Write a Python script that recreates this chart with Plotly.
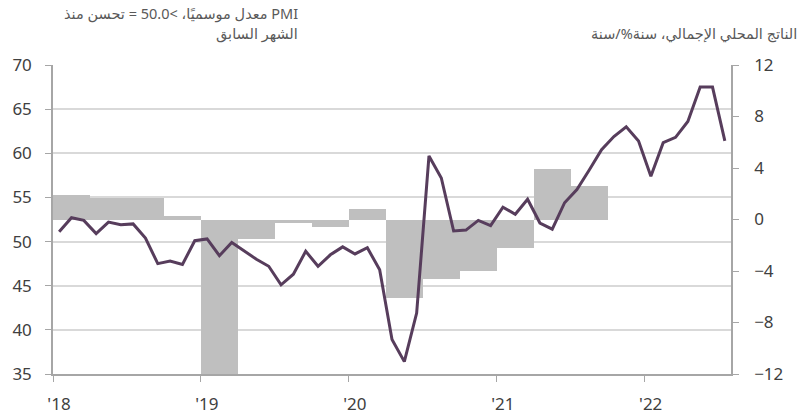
import plotly.graph_objects as go

# Monthly PMI, Jan 2018 - Jul 2022
pmi_months = list(range(55))
pmi_values = [
    51.1, 52.7, 52.4, 50.9, 52.2, 51.9, 52.0, 50.4, 47.5, 47.8, 47.4, 50.1,  # 2018
    50.3, 48.4, 49.9, 48.9, 48.0, 47.2, 45.1, 46.3, 48.9, 47.2, 48.5, 49.4,  # 2019
    48.6, 49.3, 46.8, 38.9, 36.4, 41.9, 59.7, 57.2, 51.2, 51.3, 52.4, 51.8,  # 2020
    53.9, 53.1, 54.8, 52.1, 51.4, 54.4, 55.9, 58.1, 60.4, 61.9, 63.0, 61.4,  # 2021
    57.4, 61.2, 61.8, 63.6, 67.5, 67.5, 61.4,                                # 2022
]

# Quarterly GDP, % y/y, Q1 2018 - Q3 2021
gdp_quarters = list(range(15))
gdp_values = [1.9, 1.7, 1.7, 0.25, -13.5, -1.5, -0.25, -0.6,
              0.8, -6.1, -4.6, -4.0, -2.2, 3.9, 2.6]

year_ticks = [0, 12, 24, 36, 48]
year_labels = ["'18", "'19", "'20", "'21", "'22"]

RLI, PDI = "\u2067", "\u2069"
left_title_1 = RLI + "PMI معدل موسميًا، >50.0 = تحسن منذ" + PDI
left_title_2 = RLI + "الشهر السابق" + PDI
right_title = RLI + "الناتج المحلي الإجمالي، سنة%/سنة" + PDI

FONT = "Noto Sans, DejaVu Sans, sans-serif"
AXIS_COLOR = "#a6a6a6"
TEXT_COLOR = "#404040"

W, H = 810, 419
ML, MR, MT, MB = 53, 79, 65, 45

fig = go.Figure()

fig.add_trace(go.Bar(
    x=[3 * q + 1.5 for q in gdp_quarters],
    y=gdp_values,
    width=3,
    marker=dict(color="#bfbfbf", line=dict(width=0)),
    yaxis="y",
    showlegend=False,
))

fig.add_trace(go.Scatter(
    x=[m + 0.5 for m in pmi_months],
    y=pmi_values,
    mode="lines",
    line=dict(color="#573d5c", width=3),
    yaxis="y2",
    showlegend=False,
))

def ann(text, px, py):
    pw = W - ML - MR
    ph = H - MT - MB
    return dict(
        text=text, showarrow=False, xref="paper", yref="paper",
        x=(px - ML) / pw, y=(H - MB - py) / ph,
        xanchor="right", yanchor="middle",
        font=dict(family=FONT, size=14.5, color="#595959"),
    )

fig.update_layout(
    width=W, height=H,
    margin=dict(l=ML, r=MR, t=MT, b=MB, autoexpand=False),
    paper_bgcolor="white", plot_bgcolor="white",
    font=dict(family=FONT, size=17, color=TEXT_COLOR),
    bargap=0,
    xaxis=dict(
        range=[0, 55], tickvals=year_ticks, ticktext=year_labels,
        ticks="outside", ticklen=6, tickcolor=AXIS_COLOR,
        showline=True, linecolor=AXIS_COLOR, linewidth=1.5,
        showgrid=False, zeroline=False, ticklabelshift=6, ticklabelstandoff=8,
        automargin=False,
        tickfont=dict(size=17, color=TEXT_COLOR),
    ),
    yaxis=dict(
        range=[-12, 12], tickvals=[-12, -8, -4, 0, 4, 8, 12],
        side="right", ticks="outside", ticklen=6, tickcolor=AXIS_COLOR,
        showline=True, linecolor=AXIS_COLOR, linewidth=1.5,
        showgrid=False, zeroline=False, ticklabelstandoff=12, automargin=False,
        tickfont=dict(size=17, color=TEXT_COLOR),
    ),
    yaxis2=dict(
        range=[35, 70], tickvals=[35, 40, 45, 50, 55, 60, 65, 70],
        side="left", overlaying="y", ticks="outside", ticklen=6, tickcolor=AXIS_COLOR,
        showline=True, linecolor=AXIS_COLOR, linewidth=1.5,
        showgrid=True, gridcolor="#d9d9d9", gridwidth=1.5, zeroline=False,
        ticklabelstandoff=10, automargin=False,
        tickfont=dict(size=17, color=TEXT_COLOR),
    ),
    annotations=[
        ann(left_title_1, 300, 13),
        ann(left_title_2, 300, 33),
        ann(right_title, 799, 33),
    ],
)

fig.write_html("out.html", config={"displayModeBar": False},
               post_script="document.body.style.margin='0px';")
